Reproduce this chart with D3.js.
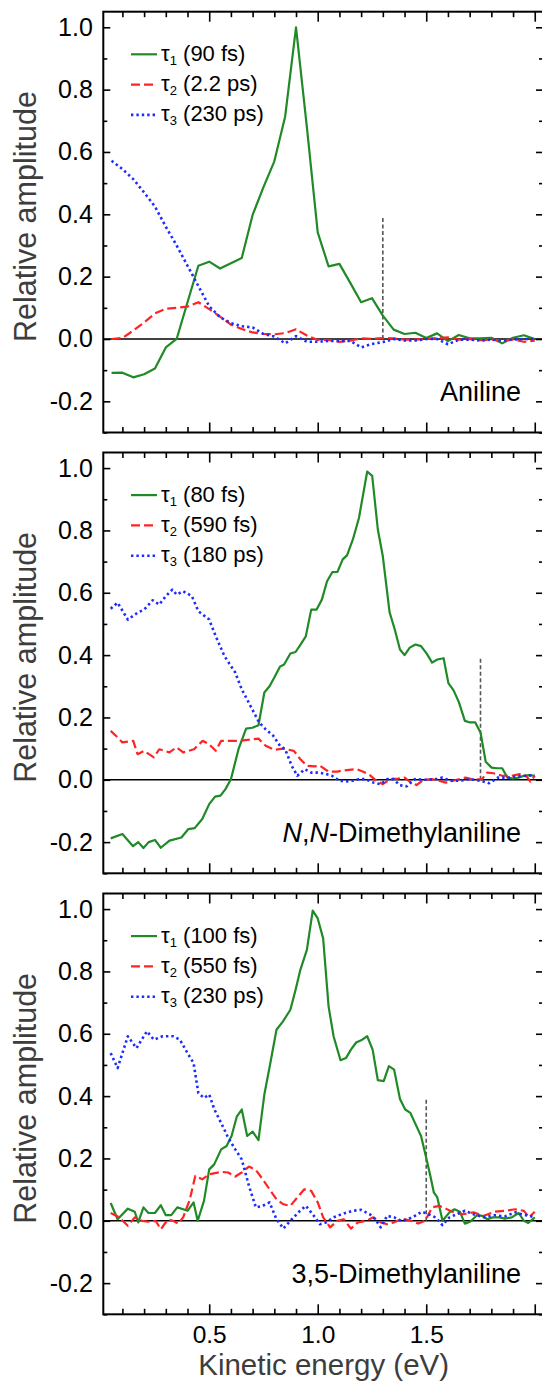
<!DOCTYPE html>
<html>
<head>
<meta charset="utf-8">
<script src="https://cdn.jsdelivr.net/npm/d3@7"></script>
<style>
  html, body { margin: 0; padding: 0; background: #fff; }
  svg { display: block; }
</style>
</head>
<body>
<svg id="chart" width="542" height="1386"></svg>
<script>
// ---- Decay-associated spectra: [kinetic energy (eV), relative amplitude] ----

// Aniline
const anilineTau1 = [[0.05,-0.109],[0.10,-0.108],[0.15,-0.123],[0.20,-0.113],[0.25,-0.095],[0.30,-0.027],[0.35,0.0],[0.40,0.118],[0.45,0.235],[0.50,0.248],[0.55,0.226],[0.60,0.243],[0.65,0.26],[0.70,0.398],[0.75,0.487],[0.80,0.57],[0.85,0.714],[0.90,1.0],[0.95,0.68],[1.00,0.342],[1.05,0.233],[1.10,0.241],[1.15,0.18],[1.20,0.118],[1.25,0.131],[1.30,0.075],[1.35,0.030],[1.40,0.016],[1.45,0.020],[1.50,0.003],[1.55,0.018],[1.60,-0.007],[1.65,0.013],[1.70,0.002],[1.75,0.002],[1.80,0.004],[1.85,-0.014],[1.90,0.004],[1.95,0.012],[2.00,0.0]];
const anilineTau2 = [[0.05,0.0],[0.10,0.003],[0.15,0.027],[0.20,0.053],[0.25,0.082],[0.30,0.097],[0.35,0.10],[0.40,0.104],[0.45,0.118],[0.50,0.096],[0.55,0.072],[0.60,0.046],[0.65,0.032],[0.70,0.021],[0.75,0.016],[0.80,0.015],[0.85,0.019],[0.90,0.031],[0.95,0.011],[1.00,-0.003],[1.05,-0.003],[1.10,-0.009],[1.15,-0.005],[1.20,0.002],[1.25,0.0],[1.30,0.003],[1.35,0.002],[1.40,-0.002],[1.45,-0.002],[1.50,0.0],[1.55,0.003],[1.60,0.005],[1.65,-0.002],[1.70,0.0],[1.75,-0.004],[1.80,-0.002],[1.85,-0.005],[1.90,-0.002],[1.95,-0.009],[2.00,-0.005]];
const anilineTau3 = [[0.05,0.572],[0.10,0.545],[0.15,0.513],[0.20,0.47],[0.25,0.425],[0.30,0.36],[0.35,0.30],[0.40,0.235],[0.45,0.17],[0.50,0.105],[0.55,0.07],[0.60,0.051],[0.65,0.041],[0.70,0.037],[0.75,0.016],[0.80,0.008],[0.85,-0.014],[0.90,0.009],[0.95,-0.009],[1.00,-0.009],[1.05,-0.006],[1.10,-0.006],[1.15,-0.006],[1.20,-0.027],[1.25,-0.016],[1.30,-0.010],[1.35,0.0],[1.40,-0.005],[1.45,-0.005],[1.50,0.0],[1.55,0.0],[1.60,-0.017],[1.65,-0.002],[1.70,-0.002],[1.75,-0.005],[1.80,-0.002],[1.85,-0.005],[1.90,-0.002],[1.95,0.0],[2.00,0.0]];

// N,N-Dimethylaniline
const dmaTau1 = [[0.046,-0.188],[0.10,-0.174],[0.149,-0.213],[0.173,-0.20],[0.197,-0.219],[0.221,-0.20],[0.25,-0.193],[0.277,-0.218],[0.317,-0.195],[0.372,-0.185],[0.404,-0.158],[0.433,-0.155],[0.468,-0.126],[0.50,-0.078],[0.527,-0.054],[0.552,-0.051],[0.575,-0.030],[0.60,0.002],[0.635,0.098],[0.67,0.164],[0.699,0.167],[0.727,0.175],[0.754,0.28],[0.778,0.30],[0.80,0.328],[0.826,0.363],[0.845,0.37],[0.874,0.405],[0.898,0.41],[0.92,0.433],[0.945,0.46],[0.97,0.546],[0.995,0.546],[1.019,0.578],[1.043,0.637],[1.067,0.666],[1.091,0.667],[1.115,0.707],[1.135,0.72],[1.162,0.771],[1.19,0.84],[1.228,0.989],[1.251,0.975],[1.277,0.803],[1.30,0.717],[1.331,0.538],[1.355,0.482],[1.379,0.418],[1.40,0.40],[1.424,0.424],[1.45,0.434],[1.476,0.429],[1.503,0.404],[1.527,0.376],[1.551,0.386],[1.58,0.39],[1.602,0.31],[1.626,0.287],[1.65,0.25],[1.678,0.189],[1.702,0.184],[1.726,0.184],[1.75,0.152],[1.774,0.058],[1.801,0.039],[1.826,0.037],[1.85,0.037],[1.874,0.007],[1.901,0.004],[1.925,0.007],[1.95,0.013],[1.975,0.015],[2.0,0.013]];
const dmaTau2 = [[0.046,0.157],[0.078,0.136],[0.10,0.12],[0.15,0.125],[0.17,0.082],[0.20,0.093],[0.245,0.072],[0.27,0.098],[0.317,0.088],[0.35,0.104],[0.38,0.088],[0.43,0.098],[0.47,0.125],[0.50,0.114],[0.53,0.093],[0.555,0.125],[0.635,0.125],[0.727,0.132],[0.76,0.109],[0.80,0.096],[0.84,0.10],[0.89,0.093],[0.92,0.066],[0.95,0.045],[0.985,0.043],[1.01,0.045],[1.05,0.026],[1.09,0.026],[1.11,0.029],[1.145,0.032],[1.18,0.034],[1.21,0.026],[1.24,0.015],[1.27,-0.003],[1.30,-0.014],[1.336,0.002],[1.37,0.004],[1.40,0.007],[1.43,-0.009],[1.455,-0.017],[1.487,0.0],[1.527,0.002],[1.56,-0.003],[1.59,-0.009],[1.64,0.0],[1.68,0.007],[1.72,0.0],[1.757,0.002],[1.78,0.023],[1.81,0.021],[1.85,0.013],[1.894,0.013],[1.93,0.018],[1.96,0.013],[1.98,-0.006],[2.0,0.013]];
const dmaTau3 = [[0.046,0.549],[0.078,0.568],[0.125,0.514],[0.17,0.536],[0.20,0.546],[0.24,0.576],[0.27,0.562],[0.30,0.589],[0.33,0.61],[0.35,0.594],[0.38,0.605],[0.42,0.589],[0.45,0.541],[0.50,0.514],[0.53,0.461],[0.57,0.397],[0.62,0.344],[0.65,0.29],[0.69,0.237],[0.73,0.184],[0.76,0.162],[0.795,0.141],[0.826,0.109],[0.85,0.098],[0.88,0.045],[0.906,0.013],[0.94,0.034],[0.97,0.023],[1.0,0.023],[1.03,0.02],[1.065,0.013],[1.10,-0.003],[1.13,-0.005],[1.16,-0.003],[1.19,0.002],[1.22,0.002],[1.256,-0.009],[1.29,-0.014],[1.32,0.002],[1.35,0.002],[1.376,-0.017],[1.41,-0.021],[1.447,0.002],[1.495,0.0],[1.543,0.002],[1.575,0.007],[1.61,-0.003],[1.655,-0.003],[1.70,0.002],[1.75,-0.003],[1.79,-0.011],[1.83,0.007],[1.88,0.007],[1.926,0.011],[2.0,0.015]];

// 3,5-Dimethylaniline
const tmaTau1 = [[0.046,0.057],[0.078,0.005],[0.125,0.039],[0.157,0.029],[0.173,-0.005],[0.197,0.043],[0.22,0.025],[0.25,0.025],[0.277,0.05],[0.30,0.018],[0.325,0.018],[0.353,0.043],[0.38,0.037],[0.40,0.032],[0.428,0.059],[0.447,0.0],[0.476,0.064],[0.50,0.165],[0.523,0.181],[0.555,0.229],[0.58,0.24],[0.603,0.272],[0.627,0.334],[0.65,0.357],[0.675,0.272],[0.70,0.286],[0.727,0.259],[0.754,0.405],[0.78,0.50],[0.81,0.613],[0.84,0.64],[0.874,0.677],[0.898,0.741],[0.92,0.805],[0.95,0.869],[0.977,0.995],[1.0,0.97],[1.025,0.906],[1.05,0.688],[1.073,0.592],[1.105,0.515],[1.13,0.522],[1.153,0.549],[1.177,0.572],[1.20,0.579],[1.228,0.592],[1.253,0.549],[1.277,0.451],[1.304,0.448],[1.328,0.496],[1.352,0.485],[1.379,0.391],[1.403,0.357],[1.427,0.346],[1.448,0.314],[1.476,0.272],[1.498,0.208],[1.519,0.144],[1.535,0.091],[1.551,0.075],[1.575,0.0],[1.607,0.027],[1.63,0.037],[1.655,0.029],[1.678,-0.009],[1.702,-0.003],[1.734,0.018],[1.758,0.016],[1.782,0.005],[1.806,0.011],[1.838,0.011],[1.862,0.007],[1.894,0.011],[1.926,0.025],[1.95,0.0],[1.97,-0.007],[2.0,0.011]];
const tmaTau2 = [[0.046,0.025],[0.086,0.011],[0.125,-0.016],[0.157,0.011],[0.19,0.0],[0.22,-0.003],[0.253,0.0],[0.277,-0.027],[0.31,0.005],[0.333,0.0],[0.357,-0.009],[0.38,0.011],[0.41,0.067],[0.436,0.144],[0.468,0.133],[0.50,0.149],[0.555,0.157],[0.587,0.155],[0.62,0.142],[0.65,0.155],[0.683,0.174],[0.715,0.163],[0.747,0.133],[0.778,0.101],[0.81,0.069],[0.842,0.053],[0.874,0.048],[0.906,0.075],[0.938,0.101],[0.97,0.096],[1.0,0.059],[1.025,0.011],[1.057,-0.021],[1.09,0.0],[1.12,0.005],[1.153,-0.025],[1.185,-0.005],[1.224,0.0],[1.256,0.011],[1.29,-0.005],[1.32,-0.011],[1.352,-0.005],[1.39,0.007],[1.43,0.0],[1.463,-0.009],[1.495,0.0],[1.527,0.043],[1.56,0.048],[1.59,0.039],[1.62,0.029],[1.67,0.021],[1.718,0.027],[1.766,0.016],[1.814,0.029],[1.862,0.032],[1.91,0.037],[1.95,0.032],[1.974,0.011],[2.0,0.029]];
const tmaTau3 = [[0.046,0.538],[0.078,0.49],[0.125,0.592],[0.165,0.554],[0.213,0.608],[0.245,0.581],[0.285,0.592],[0.333,0.592],[0.365,0.581],[0.40,0.538],[0.428,0.506],[0.45,0.41],[0.476,0.394],[0.50,0.405],[0.524,0.357],[0.555,0.314],[0.587,0.267],[0.62,0.229],[0.65,0.197],[0.683,0.112],[0.715,0.043],[0.747,0.048],[0.778,0.059],[0.81,0.005],[0.842,-0.025],[0.874,0.0],[0.914,0.029],[0.945,0.048],[0.977,0.021],[1.01,-0.011],[1.04,-0.005],[1.073,0.011],[1.11,0.021],[1.16,0.032],[1.20,0.035],[1.24,0.021],[1.265,0.005],[1.29,-0.021],[1.32,0.016],[1.352,0.011],[1.384,0.0],[1.416,0.005],[1.448,0.016],[1.48,0.029],[1.51,0.021],[1.543,0.011],[1.575,-0.014],[1.607,0.011],[1.64,0.021],[1.678,0.032],[1.718,0.021],[1.766,0.011],[1.814,0.018],[1.862,0.014],[1.91,0.027],[1.94,0.021],[1.974,0.016],[2.0,0.011]];

// Legend entries (lifetimes) and panel annotations
const compounds = ["Aniline", "N,N-Dimethylaniline", "3,5-Dimethylaniline"];
const lifetimes = [
  ["90 fs", "2.2 ps", "230 ps"],
  ["80 fs", "590 fs", "180 ps"],
  ["100 fs", "550 fs", "230 ps"]
];
const cutoffEnergy = [1.30, 1.75, 1.50];
const cutoffHeight = 0.39;
const xMajorTicks = [0.5, 1.0, 1.5, 2.0];
const xTickLabels = ["0.5", "1.0", "1.5", ""];
const xMinorTicks = [0.1,0.2,0.3,0.4,0.6,0.7,0.8,0.9,1.1,1.2,1.3,1.4,1.6,1.7,1.8,1.9];
const yMajorTicks = [-0.2, 0.0, 0.2, 0.4, 0.6, 0.8, 1.0];
const yMinorTicks = [-0.3, -0.1, 0.1, 0.3, 0.5, 0.7, 0.9];

const panelSeries = [
  [anilineTau1, anilineTau2, anilineTau3],
  [dmaTau1, dmaTau2, dmaTau3],
  [tmaTau1, tmaTau2, tmaTau3]
];

// ---- Layout and styles ----
const FONT = "'Liberation Sans', Arial, Helvetica, sans-serif";
const plotLeft = 103.3, plotRight = 543;
const panelTops = [11.7, 452.5, 893.5];
const panelH = 420.8;
const seriesStyle = [
  { color: "#1f8a26", dash: null, width: 2.2 },
  { color: "#ff2424", dash: "9,4", width: 2.2 },
  { color: "#1c2cff", dash: "2.4,3", width: 2.6 }
];

const svg = d3.select("#chart");
svg.append("rect").attr("width", 542).attr("height", 1386).attr("fill", "#fff");

const x = d3.scaleLinear().domain([0.012, 2.038]).range([plotLeft, plotRight]);
const y = d3.scaleLinear().domain([-0.3, 1.05]).range([panelH, 0]);

svg.append("defs").append("clipPath").attr("id", "plotClip")
  .append("rect").attr("x", plotLeft).attr("y", 0)
  .attr("width", plotRight - plotLeft).attr("height", panelH);

const line = d3.line().x(d => x(d[0])).y(d => y(d[1]));

panelTops.forEach((top, p) => {
  const g = svg.append("g").attr("transform", `translate(0,${top})`);
  const isLast = p === panelTops.length - 1;

  // zero line
  g.append("line")
    .attr("x1", plotLeft).attr("x2", plotRight)
    .attr("y1", y(0)).attr("y2", y(0))
    .attr("stroke", "#000").attr("stroke-width", 1.5);

  // cutoff marker
  g.append("line")
    .attr("x1", x(cutoffEnergy[p])).attr("x2", x(cutoffEnergy[p]))
    .attr("y1", y(0)).attr("y2", y(cutoffHeight))
    .attr("stroke", "#555").attr("stroke-width", 1.6)
    .attr("stroke-dasharray", "4,2.5");

  // spectra
  const plot = g.append("g").attr("clip-path", "url(#plotClip)");
  panelSeries[p].forEach((data, i) => {
    const s = seriesStyle[i];
    plot.append("path")
      .datum(data)
      .attr("d", line)
      .attr("fill", "none")
      .attr("stroke", s.color)
      .attr("stroke-width", s.width)
      .attr("stroke-linejoin", "round")
      .attr("stroke-dasharray", s.dash);
  });

  // axes: ticks point inward on all four sides
  const styleAxis = sel => {
    sel.select(".domain").remove();
    sel.selectAll(".tick line").attr("stroke", "#000").attr("stroke-width", 1.6);
    sel.selectAll("text").attr("font-family", FONT).attr("fill", "#000");
  };

  g.append("g").attr("transform", `translate(0,${panelH})`)
    .call(d3.axisBottom(x).tickValues(xMajorTicks).tickSizeInner(-10).tickSizeOuter(0)
      .tickFormat((d, i) => isLast ? xTickLabels[i] : ""))
    .call(styleAxis)
    .call(a => a.selectAll("text").attr("font-size", 24.5).attr("dy", null).attr("y", 29));
  g.append("g").attr("transform", `translate(0,${panelH})`)
    .call(d3.axisBottom(x).tickValues(xMinorTicks).tickSizeInner(-5.5).tickSizeOuter(0).tickFormat(""))
    .call(styleAxis);
  g.append("g")
    .call(d3.axisTop(x).tickValues(xMajorTicks).tickSizeInner(-10).tickSizeOuter(0).tickFormat(""))
    .call(styleAxis);
  g.append("g")
    .call(d3.axisTop(x).tickValues(xMinorTicks).tickSizeInner(-5.5).tickSizeOuter(0).tickFormat(""))
    .call(styleAxis);

  g.append("g").attr("transform", `translate(${plotLeft},0)`)
    .call(d3.axisLeft(y).tickValues(yMajorTicks).tickSizeInner(-7).tickSizeOuter(0)
      .tickPadding(10).tickFormat(d => d.toFixed(1)))
    .call(styleAxis)
    .call(a => a.selectAll("text").attr("font-size", 25).attr("x", -10.5));
  g.append("g").attr("transform", `translate(${plotLeft},0)`)
    .call(d3.axisLeft(y).tickValues(yMinorTicks).tickSizeInner(-4).tickSizeOuter(0).tickFormat(""))
    .call(styleAxis);
  g.append("g").attr("transform", `translate(${plotRight},0)`)
    .call(d3.axisRight(y).tickValues(yMajorTicks).tickSizeInner(-7).tickSizeOuter(0).tickFormat(""))
    .call(styleAxis);
  g.append("g").attr("transform", `translate(${plotRight},0)`)
    .call(d3.axisRight(y).tickValues(yMinorTicks).tickSizeInner(-4).tickSizeOuter(0).tickFormat(""))
    .call(styleAxis);

  // frame
  g.append("rect")
    .attr("x", plotLeft).attr("y", 0)
    .attr("width", plotRight - plotLeft).attr("height", panelH)
    .attr("fill", "none").attr("stroke", "#000").attr("stroke-width", 2);

  // y-axis title
  g.append("text")
    .attr("transform", `translate(36,${panelH / 2 - 5.5}) rotate(-90)`)
    .attr("text-anchor", "middle")
    .attr("font-family", FONT).attr("font-size", 30.5).attr("fill", "#3d3d3d")
    .text("Relative amplitude");

  // legend
  lifetimes[p].forEach((lt, i) => {
    const ly = 42.6 + 30.3 * i;
    const s = seriesStyle[i];
    g.append("line")
      .attr("x1", 131).attr("x2", 157).attr("y1", ly).attr("y2", ly)
      .attr("stroke", s.color).attr("stroke-width", s.width)
      .attr("stroke-dasharray", s.dash);
    const t = g.append("text")
      .attr("x", 161).attr("y", ly + 6.5)
      .attr("font-family", FONT).attr("font-size", 22).attr("fill", "#000");
    t.append("tspan").text("τ");
    t.append("tspan").attr("font-size", 13).attr("dy", 4).text(String(i + 1));
    t.append("tspan").attr("dy", -4).text(" (" + lt + ")");
  });

  // compound name
  const name = g.append("text")
    .attr("x", 521).attr("y", 389)
    .attr("text-anchor", "end")
    .attr("font-family", FONT).attr("font-size", 27).attr("fill", "#000");
  if (compounds[p].startsWith("N,N-")) {
    name.append("tspan").attr("font-style", "italic").text("N");
    name.append("tspan").text(",");
    name.append("tspan").attr("font-style", "italic").text("N");
    name.append("tspan").text(compounds[p].slice(3));
  } else {
    name.text(compounds[p]);
  }
});

// x-axis title
svg.append("text")
  .attr("x", (plotLeft + 542) / 2 + 1).attr("y", 1375)
  .attr("text-anchor", "middle")
  .attr("font-family", FONT).attr("font-size", 29.5).attr("fill", "#3d3d3d")
  .text("Kinetic energy (eV)");
</script>
</body>
</html>
